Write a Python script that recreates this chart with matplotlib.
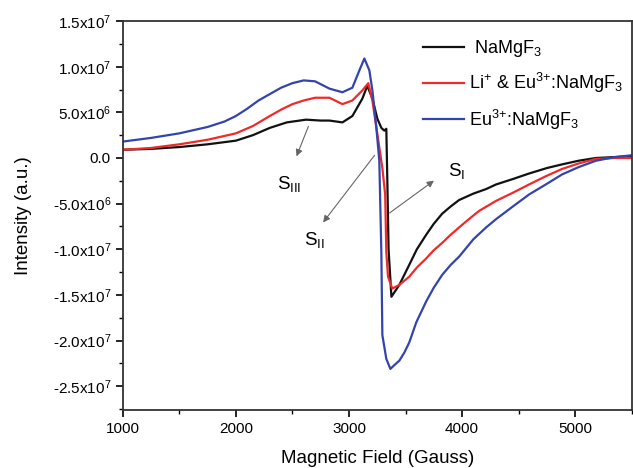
import numpy as np
import matplotlib
matplotlib.use("Agg")
from matplotlib import pyplot as plt
from matplotlib.ticker import FuncFormatter, MultipleLocator

plt.rcParams["font.family"] = ["Liberation Sans", "DejaVu Sans"]
plt.rcParams["mathtext.fontset"] = "custom"
plt.rcParams["mathtext.rm"] = "Liberation Sans"
plt.rcParams["mathtext.it"] = "Liberation Sans:italic"
plt.rcParams["axes.unicode_minus"] = False

# intensities in units of 1e6 (a.u.), field in Gauss
field_namgf3 = [1000, 1250, 1500, 1750, 2000, 2150, 2300, 2450, 2620, 2750, 2827, 2942,
                3030, 3118, 3162, 3207, 3251, 3286, 3312, 3330, 3339, 3350, 3375, 3445,
                3533, 3600, 3683, 3750, 3824, 3900, 3974, 4100, 4213, 4300, 4450, 4592,
                4750, 4884, 5030, 5183, 5350, 5500]
int_namgf3 = [0.9, 1.0, 1.2, 1.5, 1.9, 2.5, 3.3, 3.9, 4.2, 4.1, 4.1, 3.9,
              4.6, 6.5, 7.9, 6.5, 4.3, 3.3, 3.0, 3.2, -2.5, -10.0, -15.2, -13.9,
              -11.7, -10.0, -8.4, -7.2, -6.1, -5.3, -4.6, -3.9, -3.4, -2.9, -2.3, -1.7,
              -1.1, -0.7, -0.3, 0.0, 0.1, 0.2]

field_li_eu = [1000, 1250, 1500, 1750, 2000, 2150, 2300, 2400, 2500, 2600, 2700, 2827,
               2942, 3030, 3118, 3171, 3207, 3251, 3295, 3320, 3330, 3345, 3383, 3445,
               3533, 3600, 3683, 3750, 3824, 3900, 3974, 4060, 4150, 4300, 4450, 4592,
               4740, 4884, 5030, 5183, 5350, 5500]
int_li_eu = [0.9, 1.1, 1.5, 2.0, 2.7, 3.5, 4.6, 5.3, 5.9, 6.3, 6.6, 6.6,
             5.9, 6.3, 7.4, 8.2, 6.3, 2.6, -1.1, -4.0, -10.3, -13.0, -14.3, -13.9,
             -13.0, -12.0, -11.0, -10.1, -9.3, -8.4, -7.6, -6.7, -5.8, -4.7, -3.8, -2.9,
             -2.0, -1.2, -0.6, -0.1, 0.0, 0.0]

field_eu = [1000, 1250, 1500, 1750, 1900, 2000, 2100, 2200, 2300, 2400, 2500, 2600,
            2700, 2827, 2942, 3030, 3092, 3136, 3180, 3207, 3242, 3268, 3286, 3295,
            3330, 3366, 3400, 3445, 3490, 3533, 3595, 3683, 3750, 3824, 3900, 3974,
            4100, 4213, 4300, 4450, 4592, 4740, 4884, 5030, 5183, 5350, 5500]
int_eu = [1.8, 2.2, 2.7, 3.4, 4.0, 4.6, 5.4, 6.3, 7.0, 7.7, 8.2, 8.5,
          8.4, 7.6, 7.2, 7.7, 9.6, 10.9, 9.6, 7.4, 3.3, -0.3, -10.3, -19.4,
          -22.0, -23.1, -22.7, -22.2, -21.3, -20.2, -18.0, -15.7, -14.2, -12.8, -11.7, -10.8,
          -8.9, -7.6, -6.7, -5.3, -4.0, -2.9, -1.8, -1.0, -0.3, 0.1, 0.3]

labels = [" NaMgF$_\\mathregular{3}$",
          "Li$^{\\mathregular{{+}}}$ & Eu$^{\\mathregular{3{+}}}$:NaMgF$_\\mathregular{3}$",
          "Eu$^{\\mathregular{3{+}}}$:NaMgF$_\\mathregular{3}$"]
colors = ["#111111", "#ee2a2a", "#3344aa"]


def sci_fmt(v, pos):
    if abs(v) < 1:
        return "0.0"
    sign = "-" if v < 0 else ""
    e = int(np.floor(np.log10(abs(v)) + 1e-9))
    m = abs(v) / 10 ** e
    return sign + "$\\mathregular{%.1fx10^{%d}}$" % (m, e)


fig = plt.figure(figsize=(6.33, 4.68), dpi=100)
ax = fig.add_axes([0.194, 0.124, 0.804, 0.831])

series = [(field_namgf3, int_namgf3), (field_li_eu, int_li_eu), (field_eu, int_eu)]
for (x, y), c, lab in zip(series, colors, labels):
    ax.plot(x, np.array(y) * 1e6, color=c, lw=1.6, label=lab)

ax.set_xlim(1000, 5500)
ax.set_ylim(-2.76e7, 1.5e7)
ax.xaxis.set_major_locator(MultipleLocator(1000))
ax.xaxis.set_minor_locator(MultipleLocator(500))
ax.yaxis.set_major_locator(MultipleLocator(5e6))
ax.yaxis.set_minor_locator(MultipleLocator(2.5e6))
ax.yaxis.set_major_formatter(FuncFormatter(sci_fmt))
ax.tick_params(which="major", length=5, width=1.2, labelsize=11, direction="out")
ax.tick_params(which="minor", length=3, width=1.0, direction="out")
for s in ax.spines.values():
    s.set_linewidth(1.3)
    s.set_color("#333333")

ax.set_xlabel("Magnetic Field (Gauss)", fontsize=13.5, labelpad=10)
ax.set_ylabel("Intensity (a.u.)", fontsize=13.5, labelpad=15)

# annotation arrows
arrow = dict(arrowstyle="-|>", color="#666666", lw=0.8, mutation_scale=10)
ax.annotate("", xy=(2527, -0.1e6), xytext=(2650, 3.75e6), arrowprops=arrow)
ax.annotate("", xy=(2756, -7.3e6), xytext=(3242, 0.55e6), arrowprops=arrow)
ax.annotate("", xy=(3771, -2.3e6), xytext=(3339, -6.2e6), arrowprops=arrow)
ax.text(2465, -2.8e6, "S$_\\mathregular{III}$", fontsize=13.5, ha="center", va="center")
ax.text(2694, -9.0e6, "S$_\\mathregular{II}$", fontsize=13.5, ha="center", va="center")
ax.text(3948, -1.4e6, "S$_\\mathregular{I}$", fontsize=13.5, ha="center", va="center")

ax.legend(loc="upper left", bbox_to_anchor=(0.575, 0.975), frameon=False, fontsize=13,
          handlelength=2.3, handletextpad=0.28, labelspacing=0.68, borderaxespad=0)

fig.savefig("out.png", dpi=100)
